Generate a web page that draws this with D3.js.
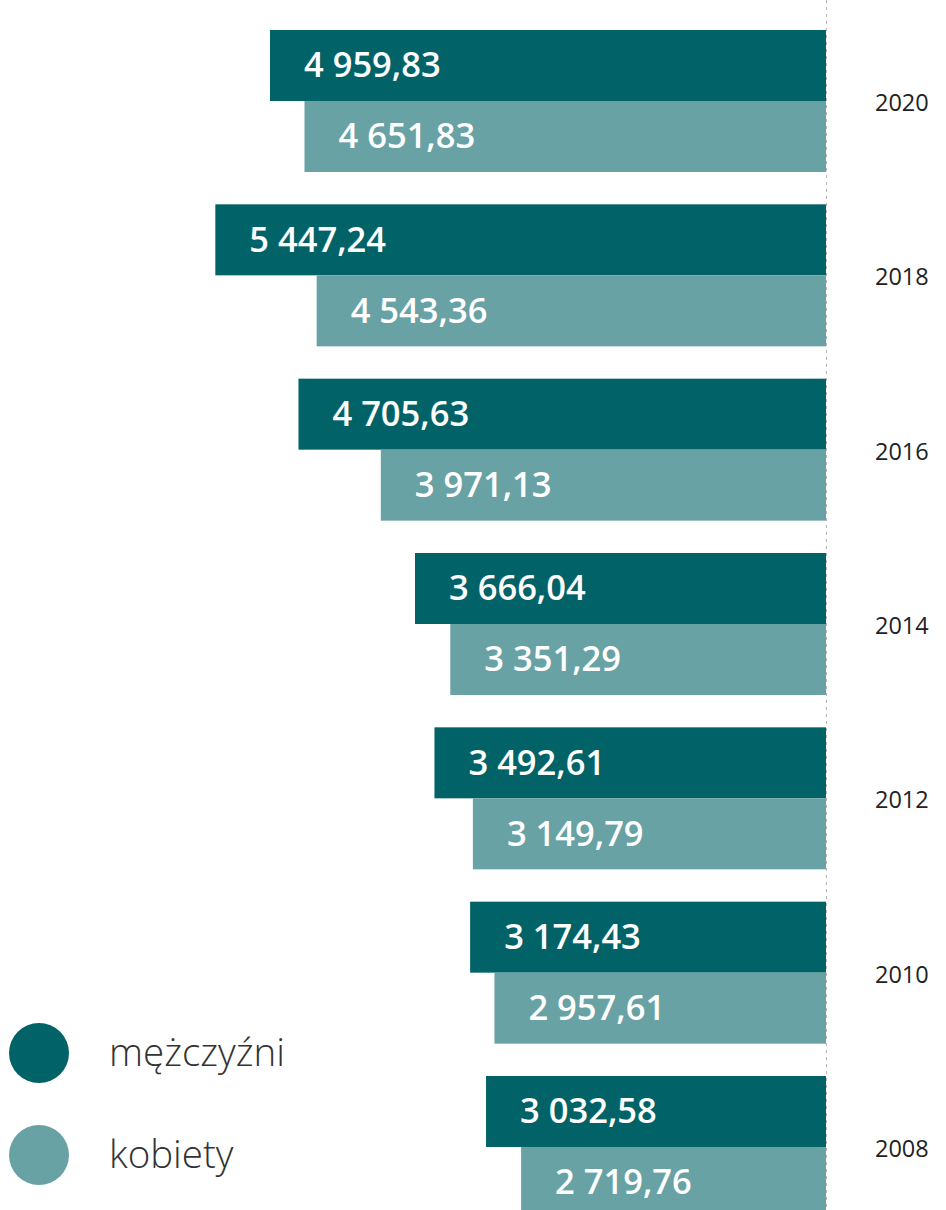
<!DOCTYPE html>
<html>
<head>
<meta charset="utf-8">
<script src="https://cdn.jsdelivr.net/npm/d3@7"></script>
<style>
  body { margin: 0; background: #fff; }
  svg { display: block; }
</style>
</head>
<body>
<div id="chart-area"></div>
<script>
/* Przecietne wynagrodzenie wg plci - slupki poziome */

var years = ["2020", "2018", "2016", "2014", "2012", "2010", "2008"];
var series = ["mężczyźni", "kobiety"];
var men = [4959.83, 5447.24, 4705.63, 3666.04, 3492.61, 3174.43, 3032.58];
var women = [4651.83, 4543.36, 3971.13, 3351.29, 3149.79, 2957.61, 2719.76];
var colors = ["#016367", "#68a2a5"];

var width = 946;
var height = 1210;
var baseX = 826;

var svg = d3.select("#chart-area")
    .append("svg")
    .attr("width", width)
    .attr("height", height);

var pl = d3.formatLocale({ decimal: ",", thousands: " ", grouping: [3], currency: ["", ""] });
var fmt = pl.format(",.2f");

var data = years.map(function(y, i) {
    return { year: y, values: [men[i], women[i]] };
});

// x grows to the left from the zero line
var x = d3.scaleLinear()
    .domain([0, 7368])
    .range([baseX, 0]);

var y = d3.scaleBand()
    .domain(years)
    .range([30, 1218])
    .paddingInner(0.1855)
    .paddingOuter(0);

var ySub = d3.scaleBand()
    .domain([0, 1])
    .range([0, y.bandwidth()]);

// dotted zero line
svg.append("line")
    .attr("x1", baseX + 0.5)
    .attr("x2", baseX + 0.5)
    .attr("y1", 0)
    .attr("y2", height)
    .attr("stroke", "#b5b5b5")
    .attr("stroke-width", 1)
    .attr("stroke-dasharray", "3,4");

var groups = svg.selectAll("g.year")
    .data(data)
    .enter()
    .append("g")
    .attr("class", "year")
    .attr("transform", function(d) {
        return "translate(0," + y(d.year) + ")";
    });

groups.selectAll("rect")
    .data(function(d) { return d.values; })
    .enter()
    .append("rect")
    .attr("x", function(d) { return x(d); })
    .attr("y", function(d, i) { return ySub(i); })
    .attr("width", function(d) { return baseX - x(d); })
    .attr("height", ySub.bandwidth())
    .attr("fill", function(d, i) { return colors[i]; });

groups.selectAll("text.val")
    .data(function(d) { return d.values; })
    .enter()
    .append("text")
    .attr("class", "val")
    .attr("x", function(d) { return x(d) + 34; })
    .attr("y", function(d, i) { return ySub(i) + ySub.bandwidth() / 2 + 12; })
    .attr("fill", "#fff")
    .style("font-family", "'Open Sans', sans-serif")
    .style("font-weight", 600)
    .style("font-size", "34.5px")
    .text(function(d) { return fmt(d); });

groups.append("text")
    .attr("x", 875)
    .attr("y", y.bandwidth() / 2 + 10)
    .attr("fill", "#222")
    .style("font-family", "'Open Sans', sans-serif")
    .style("font-size", "23.5px")
    .text(function(d) { return d.year; });

// legend
var legend = svg.selectAll("g.legend")
    .data(series)
    .enter()
    .append("g")
    .attr("class", "legend")
    .attr("transform", function(d, i) {
        return "translate(39," + (1053 + i * 102) + ")";
    });

legend.append("circle")
    .attr("r", 30)
    .attr("fill", function(d, i) { return colors[i]; });

legend.append("text")
    .attr("x", 70)
    .attr("y", 13)
    .attr("fill", "#333")
    .style("font-family", "'Open Sans', sans-serif")
    .style("font-weight", 300)
    .style("font-size", "38.5px")
    .text(function(d) { return d; });
</script>
</body>
</html>
